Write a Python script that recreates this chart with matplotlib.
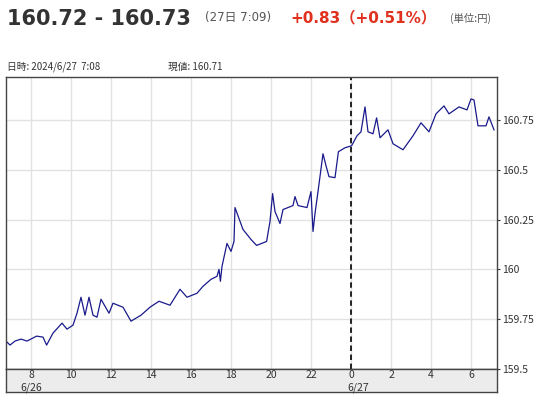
import matplotlib
matplotlib.use("Agg")
import matplotlib.pyplot as plt

plt.rcParams['font.family'] = ['DejaVu Sans', 'Noto Sans CJK JP']

hours = [6.75, 6.95, 7.2, 7.5, 7.8, 8.28, 8.6, 8.78, 9.1, 9.55, 9.8, 10.1, 10.3, 10.5, 10.7, 10.9,
         11.1, 11.3, 11.5, 11.9, 12.1, 12.6, 13.0, 13.5, 13.95, 14.4, 14.95, 15.45, 15.8, 16.3,
         16.6, 17.0, 17.3, 17.4, 17.47, 17.55, 17.8, 18.0, 18.15, 18.2, 18.6, 19.0, 19.28, 19.78,
         19.95, 20.08, 20.2, 20.45, 20.6, 21.1, 21.2, 21.35, 21.8, 22.0, 22.1, 22.2, 22.35, 22.6,
         22.75, 22.9, 23.2, 23.37, 23.7, 24.03, 24.3, 24.5, 24.7, 24.85, 25.1, 25.28, 25.45,
         25.85, 26.1, 26.6, 27.1, 27.5, 27.9, 28.25, 28.65, 28.9, 29.4, 29.8, 30.0, 30.15,
         30.35, 30.75, 30.9, 31.15]
values = [159.64, 159.62, 159.64, 159.65, 159.64, 159.665, 159.66, 159.62, 159.68, 159.73,
          159.70, 159.72, 159.78, 159.86, 159.77, 159.86, 159.77, 159.76, 159.85, 159.78,
          159.83, 159.81, 159.74, 159.77, 159.81, 159.84, 159.82, 159.90, 159.86, 159.88,
          159.915, 159.95, 159.965, 160.0, 159.94, 160.015, 160.13, 160.09, 160.14, 160.31,
          160.2, 160.15, 160.12, 160.14, 160.24, 160.38, 160.29, 160.23, 160.30, 160.32,
          160.365, 160.32, 160.31, 160.39, 160.19, 160.28, 160.39, 160.58, 160.52, 160.465,
          160.46, 160.59, 160.61, 160.62, 160.67, 160.69, 160.815, 160.69, 160.68, 160.76,
          160.66, 160.70, 160.63, 160.60, 160.67, 160.735, 160.69, 160.78, 160.82, 160.78,
          160.815, 160.80, 160.855, 160.85, 160.72, 160.72, 160.765, 160.70]
xtick_pos = [8, 10, 12, 14, 16, 18, 20, 22, 24, 26, 28, 30]
xtick_lab = ['8', '10', '12', '14', '16', '18', '20', '22', '0', '2', '4', '6']
ytick_pos = [159.5, 159.75, 160, 160.25, 160.5, 160.75]
ytick_lab = ['159.5', '159.75', '160', '160.25', '160.5', '160.75']
XMIN, XMAX = 6.75, 31.3
YMIN, YMAX = 159.5, 160.965

fig = plt.figure(figsize=(5.37, 4.0), dpi=100)
W, H = 537, 400
ax = fig.add_axes([6/W, 1-369/H, 491/W, 292/H])
ax.plot(hours, values, color='#1a1a8c', lw=0.9)
ax.set_xlim(XMIN, XMAX)
ax.set_ylim(YMIN, YMAX)
ax.set_xticks(xtick_pos)
ax.set_yticks(ytick_pos)
ax.grid(True, color='#e2e2e2', lw=1)
ax.set_axisbelow(True)
ax.axvline(24, color='#111111', lw=1.3, ls=(0, (3, 2)))
ax.tick_params(axis='x', length=0, labelbottom=False)
ax.yaxis.tick_right()
ax.set_yticklabels(ytick_lab, family=['Noto Sans CJK JP'])
ax.tick_params(axis='y', length=2, labelsize=7.5, colors='#333333', pad=2)
for s in ax.spines.values():
    s.set_color('#444444'); s.set_linewidth(1)

bx = fig.add_axes([6/W, 1-392/H, 491/W, 23/H])
bx.set_facecolor('#ececec')
bx.set_xlim(XMIN, XMAX); bx.set_ylim(0, 1)
bx.set_xticks([]); bx.set_yticks([])
for s in bx.spines.values():
    s.set_color('#444444'); s.set_linewidth(1)
cjk = ['Noto Sans CJK JP']
for p, l in zip(xtick_pos, xtick_lab):
    bx.text(p, 0.72, l, ha='center', va='center', fontsize=7.5, color='#333333', family=cjk)
bx.text(8, 0.2, '6/26', ha='center', va='center', fontsize=7.5, color='#333333', family=cjk)
bx.text(24.35, 0.2, '6/27', ha='center', va='center', fontsize=7.5, color='#333333', family=cjk)

fig.text(7/W, 1-19/H, '160.72 - 160.73', fontsize=15, fontweight='bold', color='#333333', va='center')
fig.text(205/W, 1-18/H, '(27日 7:09)', fontsize=8.5, color='#555555', va='center')
fig.text(290/W, 1-18/H, '+0.83（+0.51%）', fontsize=11, fontweight='bold', color='#e0301e', va='center')
fig.text(450/W, 1-18/H, '(単位:円)', fontsize=7.5, color='#555555', va='center', family=cjk)
fig.text(7/W, 1-67/H, '日時: 2024/6/27  7:08', fontsize=7, color='#333333', va='center', family=cjk)
fig.text(168/W, 1-67/H, '現値: 160.71', fontsize=7, color='#333333', va='center', family=cjk)

fig.savefig('out.png', dpi=100)
